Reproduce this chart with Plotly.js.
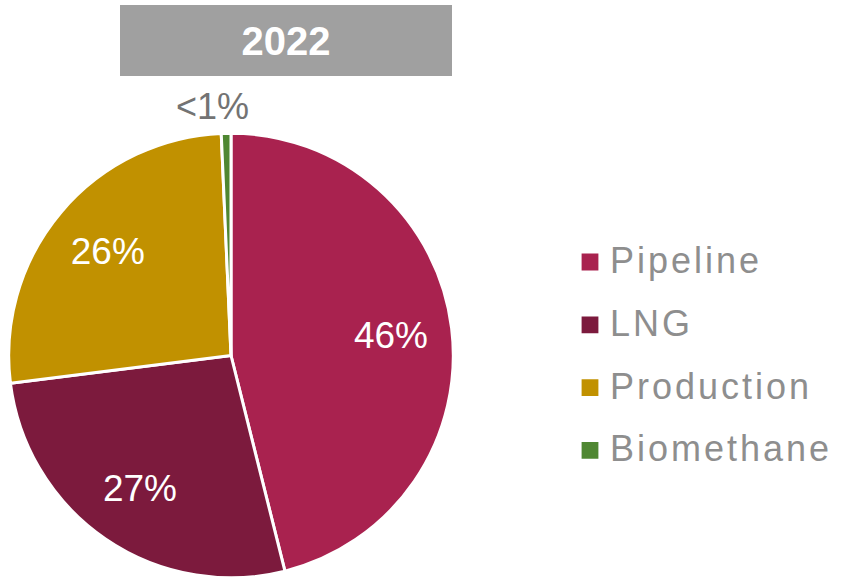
<!DOCTYPE html>
<html>
<head>
<meta charset="utf-8">
<script src="https://cdn.plot.ly/plotly-3.0.1.min.js"></script>
<style>
  html, body { margin: 0; padding: 0; background: #ffffff; }
  #chart { width: 843px; height: 580px; }
  .legend path.legendpie { transform: translate(20px, 7px) scale(1.4); stroke-width: 0 !important; }
</style>
</head>
<body>
<div id="chart"></div>
<script>
// Data (2022 gas supply shares)
const year = "2022";
const categories = ["Pipeline", "LNG", "Production", "Biomethane"];
const shares = [46.1, 26.9, 26.3, 0.7];
const shareLabels = ["46%", "27%", "26%", "<1%"];
const sliceColors = ["#a9224f", "#7c1a3d", "#c19100", "#4f8732"];
const labelPositions = ["inside", "inside", "inside", "none"];

const W = 843, H = 580;
const FONT = "Liberation Sans, Arial, Helvetica, sans-serif";
const pieDomain = { x: [8.7 / W, 453.3 / W], y: [(H - 577.8) / H, (H - 133.2) / H] };

const legendNames = categories.map(c =>
  '<span style="font-size:36px;letter-spacing:3px">' + c + '</span>');

// Slices
const slices = {
  type: "pie",
  labels: legendNames,
  values: shares,
  textinfo: "none",
  sort: false,
  direction: "clockwise",
  rotation: 0,
  marker: { colors: sliceColors, line: { color: "#ffffff", width: 3 } },
  domain: pieDomain,
  hoverinfo: "skip"
};

// Percentage labels (transparent ring so labels sit in the outer part of each slice)
const labelsTrace = {
  type: "pie",
  labels: legendNames,
  values: shares,
  text: shareLabels,
  textinfo: "text",
  textposition: labelPositions,
  insidetextorientation: "horizontal",
  sort: false,
  direction: "clockwise",
  rotation: 0,
  hole: 0.45,
  showlegend: false,
  marker: { colors: sliceColors.map(() => "rgba(0,0,0,0)"), line: { width: 0 } },
  insidetextfont: { family: FONT, size: 37, color: "#ffffff" },
  domain: pieDomain,
  hoverinfo: "skip"
};

const layout = {
  width: W,
  height: H,
  margin: { l: 0, r: 0, t: 0, b: 0 },
  paper_bgcolor: "#ffffff",
  plot_bgcolor: "#ffffff",
  showlegend: true,
  legend: {
    x: 570 / W, xanchor: "left",
    y: 1 - 218.6 / H, yanchor: "top",
    font: { family: FONT, size: 46, color: "#8e8e8e" },
    bgcolor: "rgba(0,0,0,0)",
    borderwidth: 0
  },
  annotations: [
    {
      text: "<b>" + year + "</b>",
      xref: "paper", yref: "paper",
      x: 286 / W, y: 1 - 40.5 / H,
      xanchor: "center", yanchor: "middle",
      showarrow: false,
      width: 332, height: 71,
      bgcolor: "#a0a0a0",
      borderpad: 0, borderwidth: 0,
      font: { family: FONT, size: 40, color: "#ffffff" }
    },
    {
      text: shareLabels[3],
      xref: "paper", yref: "paper",
      x: 212 / W, y: 1 - 107 / H,
      xanchor: "center", yanchor: "middle",
      showarrow: false,
      font: { family: FONT, size: 36, color: "#737373" }
    }
  ]
};

Plotly.newPlot("chart", [slices, labelsTrace], layout, { displayModeBar: false, staticPlot: true });
</script>
</body>
</html>
